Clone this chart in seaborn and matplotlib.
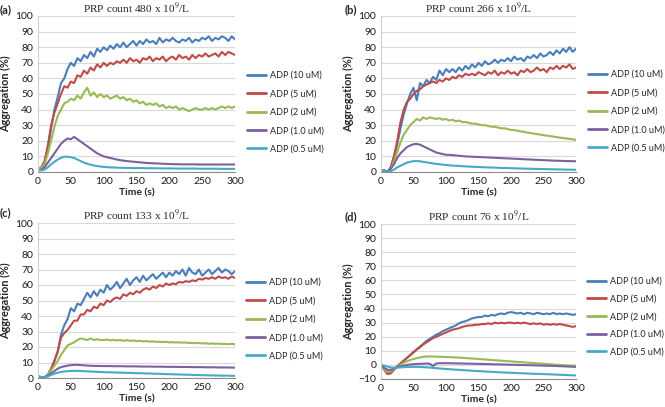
import pandas as pd
import seaborn as sns
import matplotlib.pyplot as plt

# sampling times (s), one reading every 5 s
time_s = list(range(0, 301, 5))
series_names = ["ADP (10 uM)", "ADP (5 uM)", "ADP (2 uM)", "ADP (1.0 uM)", "ADP (0.5 uM)"]
colors = ["#4a7ebb", "#be4b48", "#98b954", "#7d60a0", "#46aac5"]
titles = ["PRP count 480 x 10$^9$/L", "PRP count 266 x 10$^9$/L",
          "PRP count 133 x 10$^9$/L", "PRP count 76 x 10$^9$/L"]
panel_tags = ["(a)", "(b)", "(c)", "(d)"]

# (a) PRP 480
a_10 = [2, 3, 6, 15, 28, 40, 48, 57, 60, 66,
        70, 68, 73, 71, 75, 73, 77, 74, 79, 77,
        80, 78, 81, 79, 82, 80, 83, 80, 82, 84,
        81, 84, 82, 85, 83, 84, 82, 86, 83, 85,
        84, 86, 84, 83, 85, 84, 86, 83, 85, 84,
        86, 85, 87, 84, 86, 85, 87, 86, 84, 87,
        85]
a_5 = [2, 3, 7, 17, 30, 38, 44, 50, 55, 54,
       58, 57, 62, 61, 65, 63, 67, 65, 69, 67,
       70, 68, 70, 69, 71, 70, 72, 70, 73, 71,
       72, 70, 73, 72, 74, 71, 73, 72, 74, 71,
       73, 74, 72, 75, 73, 74, 72, 75, 73, 75,
       74, 76, 74, 75, 76, 74, 77, 75, 77, 76,
       75]
a_2 = [2, 3, 5, 12, 20, 29, 36, 40, 44, 45,
       47, 46, 49, 47, 51, 54, 49, 51, 48, 50,
       48, 49, 47, 48, 49, 47, 48, 46, 47, 45,
       46, 44, 45, 43, 44, 43, 44, 42, 43, 41,
       42, 41, 42, 40, 41, 40, 39, 40, 41, 40,
       40, 41, 40, 41, 40, 41, 42, 41, 42, 41,
       42]
a_1 = [1, 1.5, 3, 6, 9, 12, 15, 18, 20, 21.5,
       21, 22.5, 21, 19.5, 18, 16.5, 15, 13.5, 12, 11,
       10, 9.5, 9, 8.5, 8, 7.6, 7.3, 7, 6.8, 6.6,
       6.4, 6.2, 6, 5.8, 5.7, 5.6, 5.5, 5.4, 5.3, 5.2,
       5.1, 5.0, 5.0, 5.0, 4.9, 4.9, 4.9, 4.9, 4.9, 4.8,
       4.8, 4.8, 4.8, 4.8, 4.8, 4.8, 4.8, 4.8, 4.8, 4.8,
       4.8]
a_05 = [1, 1, 1.5, 3, 5, 6.5, 8, 9, 9.8, 9.8,
        9.5, 9, 8, 7, 6, 5.3, 4.7, 4.2, 3.8, 3.5,
        3.3, 3.1, 3, 2.9, 2.8, 2.7, 2.7, 2.6, 2.6, 2.5,
        2.5, 2.5, 2.5, 2.4, 2.4, 2.4, 2.4, 2.3, 2.3, 2.3,
        2.3, 2.3, 2.2, 2.2, 2.2, 2.2, 2.2, 2.2, 2.2, 2.1,
        2.1, 2.1, 2.1, 2.1, 2.1, 2.1, 2.0, 2.0, 2.0, 2.0,
        2.0]

# (b) PRP 266
b_10 = [1, 1, 0, 3, 10, 18, 28, 37, 44, 50,
        54, 46, 57, 55, 59, 57, 61, 59, 65, 62,
        66, 64, 66, 64, 67, 65, 68, 66, 69, 67,
        70, 68, 71, 69, 70, 72, 70, 72, 71, 73,
        71, 74, 72, 73, 71, 74, 73, 75, 73, 76,
        74, 75, 77, 75, 78, 76, 79, 77, 80, 77,
        79]
b_5 = [1, 1, 0, 3, 10, 20, 32, 40, 45, 47,
       50, 52, 53, 55, 56, 57, 58, 57, 59, 58,
       60, 59, 61, 60, 62, 61, 63, 62, 63, 62,
       64, 63, 62, 64, 63, 65, 62, 64, 63, 65,
       63, 64, 62, 65, 64, 66, 64, 65, 67, 65,
       66, 64, 67, 66, 68, 66, 68, 67, 69, 66,
       67]
b_2 = [1, 1, 0, 2, 7, 13, 19, 24, 27, 30,
       32, 34, 33, 35, 34, 35, 34.5, 34, 34.5, 33.5,
       34, 33, 33.5, 32.5, 33, 32, 32, 31.5, 31, 31,
       30.5, 30, 30, 29.5, 29, 29, 28.5, 28, 28, 27.5,
       27, 26.8, 26.5, 26, 25.8, 25.3, 25, 24.6, 24.3, 24,
       23.6, 23.3, 23, 22.7, 22.4, 22, 21.8, 21.5, 21.2, 21,
       20.5]
b_1 = [1, 1, 0, 2, 5, 9, 12, 14, 16, 17,
       17.8, 18, 17.5, 16.5, 15.5, 14.5, 13.5, 12.5, 12, 11.5,
       11, 11, 10.8, 10.6, 10.4, 10.2, 10, 9.9, 9.8, 9.7,
       9.6, 9.5, 9.4, 9.3, 9.2, 9.1, 9.0, 8.9, 8.8, 8.7,
       8.6, 8.5, 8.4, 8.3, 8.2, 8.1, 8.0, 7.9, 7.8, 7.7,
       7.6, 7.5, 7.4, 7.3, 7.2, 7.2, 7.1, 7.0, 7.0, 6.9,
       6.9]
b_05 = [1, 1, 0, 0.5, 1.5, 3, 4, 5, 6, 6.5,
        7, 7, 6.9, 6.5, 6.2, 5.8, 5.5, 5.2, 5, 4.7,
        4.5, 4.3, 4.1, 4, 3.9, 3.7, 3.6, 3.5, 3.4, 3.3,
        3.2, 3.1, 3.0, 2.9, 2.9, 2.8, 2.7, 2.6, 2.6, 2.5,
        2.4, 2.4, 2.3, 2.2, 2.2, 2.1, 2.1, 2.0, 2.0, 1.9,
        1.9, 1.8, 1.8, 1.7, 1.7, 1.6, 1.6, 1.5, 1.5, 1.5,
        1.4]

# (c) PRP 133
c_10 = [1, 0.5, 0.5, 2, 6, 11, 17, 28, 34, 38,
        45, 43, 48, 47, 51, 55, 52, 56, 53, 57,
        55, 60, 57, 59, 62, 58, 61, 64, 60, 63,
        65, 62, 66, 63, 65, 67, 64, 66, 68, 65,
        68, 66, 69, 67, 70, 66, 71, 68, 67, 70,
        66, 68, 70, 67, 69, 71, 68, 70, 69, 67,
        69]
c_5 = [1, 0.5, 0.5, 2, 6, 11, 17, 26, 29, 31,
       34, 37, 37, 41, 41, 44, 43, 46, 45, 48,
       47, 50, 49, 51, 52, 51, 54, 53, 55, 54,
       56, 55, 57, 58, 57, 59, 58, 60, 59, 61,
       60, 61, 60.5, 62, 61.5, 62.5, 62, 63, 62.5, 64,
       63.5, 64.5, 64, 65, 64, 65.5, 64.5, 65, 64, 65.5,
       64.5]
c_2 = [1, 0.5, 0.5, 2, 5, 8, 11, 15, 18, 21,
       22, 23, 24.5, 25.5, 25, 24.5, 25.5, 24.5, 25, 24.5,
       24.5, 24.8, 24.3, 24.6, 24.2, 24.5, 24, 24.4, 24, 24.2,
       23.8, 24, 23.6, 23.8, 23.5, 23.6, 23.3, 23.4, 23.2, 23.3,
       23, 23.1, 22.9, 23, 22.8, 22.9, 22.6, 22.7, 22.5, 22.6,
       22.3, 22.4, 22.1, 22.3, 22, 22.2, 21.9, 22, 21.8, 22,
       21.8]
c_1 = [1, 0.5, 0.5, 1.5, 3, 4.5, 6, 7, 7.5, 8,
       8.3, 8.5, 8.5, 8.3, 8.2, 8, 7.9, 7.8, 7.8, 7.7,
       7.7, 7.7, 7.7, 7.6, 7.6, 7.6, 7.6, 7.5, 7.5, 7.5,
       7.5, 7.4, 7.4, 7.4, 7.4, 7.3, 7.3, 7.3, 7.3, 7.2,
       7.2, 7.2, 7.2, 7.1, 7.1, 7.1, 7.1, 7.0, 7.0, 7.0,
       7.0, 6.9, 6.9, 6.9, 6.9, 6.8, 6.8, 6.8, 6.8, 6.7,
       6.7]
c_05 = [1, 0.5, 0.5, 1, 2, 2.8, 3.4, 3.9, 4.2, 4.4,
        4.5, 4.6, 4.6, 4.5, 4.4, 4.3, 4.2, 4.1, 4.0, 3.9,
        3.8, 3.7, 3.7, 3.6, 3.5, 3.5, 3.4, 3.3, 3.3, 3.2,
        3.1, 3.1, 3.0, 2.9, 2.9, 2.8, 2.7, 2.7, 2.6, 2.5,
        2.5, 2.4, 2.3, 2.3, 2.2, 2.1, 2.1, 2.0, 1.9, 1.9,
        1.8, 1.8, 1.7, 1.7, 1.6, 1.6, 1.5, 1.5, 1.5, 1.4,
        1.4]

# (d) PRP 76
d_10 = [0, -3, -5.5, -5, -3, -1, 1, 3, 5, 7,
        9, 11, 13, 15, 17, 18.5, 20, 21.5, 22.5, 24,
        25, 26, 27, 28, 29.5, 30.5, 31, 32, 33, 33.5,
        34, 34, 35, 34.5, 35.5, 35, 36, 36.5, 36, 37,
        37.5, 37, 36.5, 37, 36, 37, 36.5, 36, 37, 36.5,
        36, 36.5, 36, 37, 36, 36.5, 36, 36.5, 36, 35.5,
        36]
d_5 = [0, -3.5, -6.5, -6, -3.5, -1, 1, 3, 5, 7,
       9, 11, 12.5, 14.5, 16, 17.5, 19, 20, 21, 22,
       23, 24, 25, 25.5, 26, 27, 27.5, 28, 28, 28.5,
       28.5, 29, 29, 29.5, 29, 30, 29.5, 30, 29.5, 30,
       30, 29.5, 30, 29.5, 30, 29.5, 29, 29.5, 29, 29.5,
       28.5, 29, 28.5, 29, 28.5, 29, 28.5, 28, 27.5, 27,
       27.5]
d_2 = [0, -3, -5, -4.5, -3, -1.5, 0, 1.5, 2.5, 3.5,
       4.2, 4.8, 5.3, 5.7, 6, 6, 6, 5.8, 5.8, 5.7,
       5.6, 5.5, 5.4, 5.3, 5.2, 5.0, 4.9, 4.7, 4.5, 4.4,
       4.2, 4.0, 3.9, 3.7, 3.5, 3.3, 3.2, 3.0, 2.8, 2.6,
       2.5, 2.3, 2.1, 2.0, 1.8, 1.6, 1.5, 1.3, 1.1, 1.0,
       0.8, 0.6, 0.5, 0.3, 0.1, 0, -0.2, -0.3, -0.4, -0.5,
       -0.6]
d_1 = [0, -2, -3.5, -3.5, -2.5, -1.5, -1, -0.5, 0, 0.3,
       0.5, 0.7, 0.8, 0.8, 1, 0.8, -0.8, 1, 1.2, 1.2,
       1.2, 1.2, 1.1, 1.1, 1.0, 1.0, 0.9, 0.9, 0.8, 0.8,
       0.7, 0.7, 0.6, 0.6, 0.5, 0.4, 0.4, 0.3, 0.3, 0.2,
       0.1, 0.1, 0.0, 0.0, -0.1, -0.2, -0.2, -0.3, -0.4, -0.4,
       -0.5, -0.6, -0.6, -0.7, -0.8, -0.9, -1.0, -1.1, -1.2, -1.3,
       -1.4]
d_05 = [0, -0.5, -1.2, -1.8, -2, -2, -1.8, -1.6, -1.5, -1.4,
        -1.4, -1.4, -1.5, -1.6, -1.7, -1.9, -2.1, -2.3, -2.5, -2.7,
        -2.9, -3.0, -3.2, -3.4, -3.5, -3.7, -3.8, -4.0, -4.1, -4.3,
        -4.4, -4.5, -4.7, -4.8, -4.9, -5.0, -5.2, -5.3, -5.4, -5.5,
        -5.6, -5.7, -5.8, -5.9, -6.0, -6.1, -6.2, -6.3, -6.3, -6.4,
        -6.5, -6.6, -6.7, -6.8, -6.9, -7.0, -7.1, -7.2, -7.3, -7.4,
        -7.5]

panels = [[a_10, a_5, a_2, a_1, a_05],
          [b_10, b_5, b_2, b_1, b_05],
          [c_10, c_5, c_2, c_1, c_05],
          [d_10, d_5, d_2, d_1, d_05]]

sns.set_style("white")
plt.rcParams["font.family"] = ["Lato", "DejaVu Sans"]
plt.rcParams["mathtext.fontset"] = "stix"

W, H = 665, 407
fig = plt.figure(figsize=(W / 100, H / 100), dpi=100)

# pixel boxes: left, top, right, bottom
axes_px = [(38, 16, 235, 172), (381, 16, 576, 172), (38, 223, 235, 378), (381, 224, 576, 379)]
legend_px = [(247, 71, 1.04), (588, 70, 1.04), (246, 278, 1.04), (587, 277, 0.95)]
tag_px = [(0, 10), (345, 10), (0, 213), (345, 217)]
ylabel_x = [11, 354, 11, 354]

for i, series in enumerate(panels):
    l, t, r, b = axes_px[i]
    ax = fig.add_axes([l / W, 1 - b / H, (r - l) / W, (b - t) / H])
    df = pd.DataFrame({
        "time": time_s * len(series),
        "value": [v for s in series for v in s],
        "series": [n for n in series_names for _ in time_s],
    })
    sns.lineplot(data=df, x="time", y="value", hue="series", hue_order=series_names,
                 palette=colors, linewidth=1.5, ax=ax)
    handles, labels = ax.get_legend_handles_labels()
    ax.get_legend().remove()
    for h in handles:
        h.set_linewidth(2)
    lx, ly, sp = legend_px[i]
    ax.legend(handles, labels, loc="upper left", bbox_to_anchor=(lx / W, 1 - ly / H),
              bbox_transform=fig.transFigure, frameon=False, fontsize=6.5,
              handlelength=2.1, handletextpad=0.5, borderpad=0, borderaxespad=0,
              labelspacing=sp)

    ymin = -10 if i == 3 else 0
    ax.set_xlim(0, 300)
    ax.set_ylim(ymin, 100)
    ax.set_xticks(range(0, 301, 50))
    ax.set_xticks(range(0, 301, 15), minor=True)
    ax.set_yticks(range(ymin, 101, 10))
    ax.yaxis.grid(True, color="#d9d9d9", linewidth=0.8)
    ax.xaxis.grid(False)
    ax.set_axisbelow(True)
    for s in ["top", "right"]:
        ax.spines[s].set_visible(False)
    ax.spines["left"].set_color("#d0d0d0")
    ax.spines["left"].set_linewidth(0.8)
    ax.spines["bottom"].set_color("#8c8c8c")
    ax.spines["bottom"].set_linewidth(0.8)
    ax.tick_params(axis="x", which="major", length=0, pad=3.5, labelsize=7.5, labelcolor="#1a1a1a")
    ax.tick_params(axis="x", which="minor", length=3, width=0.7, color="#8c8c8c", direction="out")
    ax.tick_params(axis="y", length=0, pad=3.5, labelsize=7.5, labelcolor="#1a1a1a")

    ax.set_xlabel("Time (s)", fontsize=7.5, fontweight="bold", labelpad=1.5)
    ax.set_ylabel("Aggregation (%)", fontsize=7.8, fontweight="bold")
    ax.yaxis.set_label_coords((ylabel_x[i] - l) / (r - l), 0.5)
    ax.set_title(titles[i], family="Liberation Serif", fontsize=8.2, pad=2)

    tx, ty = tag_px[i]
    fig.text(tx / W, 1 - ty / H, panel_tags[i], fontsize=8, fontweight="bold", va="center")

fig.savefig("out.png", dpi=100)
